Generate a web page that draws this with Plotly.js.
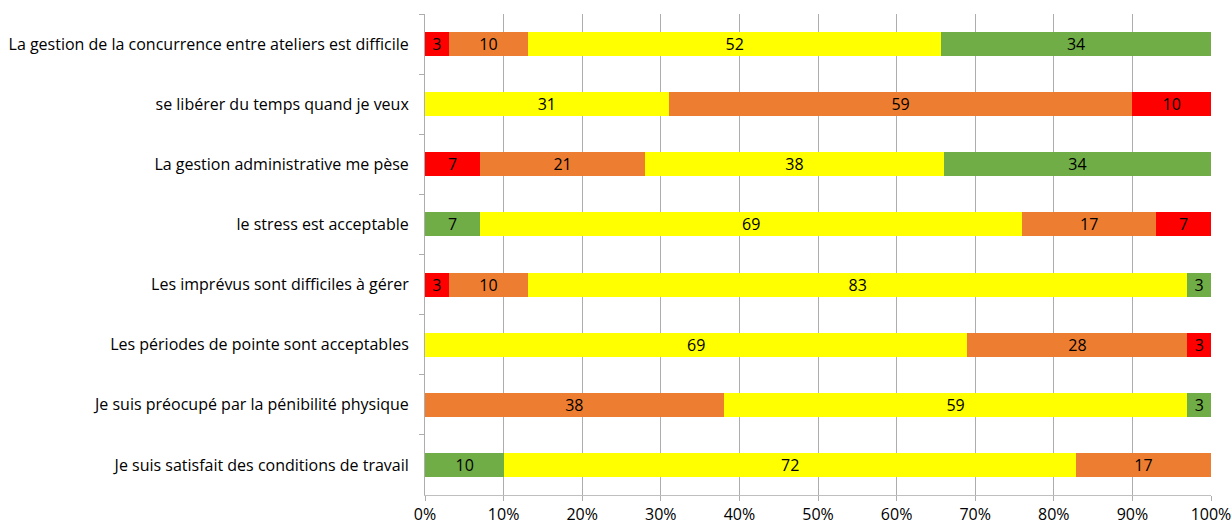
<!DOCTYPE html>
<html>
<head>
<meta charset="utf-8">
<script src="https://cdn.plot.ly/plotly-3.0.1.min.js"></script>
<style>html,body{margin:0;padding:0;background:#fff;}#chart{width:1232px;height:524px;}</style>
</head>
<body>
<div id="chart"></div>
<script>
// Categories, top to bottom
const categories = [
  "La gestion de la concurrence entre ateliers est difficile",
  "se libérer du temps quand je veux",
  "La gestion administrative me pèse",
  "le stress est acceptable",
  "Les imprévus sont difficiles à gérer",
  "Les périodes de pointe sont acceptables",
  "Je suis préocupé par la pénibilité physique",
  "Je suis satisfait des conditions de travail"
];
// Values (%) per colour group, same order as categories (null = absent)
const redValues    = [3, 10, 7, 7, 3, 3, null, null];
const orangeValues = [10, 59, 21, 17, 10, 28, 38, 17];
const yellowValues = [52, 31, 38, 69, 83, 69, 59, 72];
const greenValues  = [34, null, 34, 7, 3, null, 3, 10];
// Order of segments from left to right for each category
const segmentOrder = [
  ["red", "orange", "yellow", "green"],
  ["yellow", "orange", "red"],
  ["red", "orange", "yellow", "green"],
  ["green", "yellow", "orange", "red"],
  ["red", "orange", "yellow", "green"],
  ["yellow", "orange", "red"],
  ["orange", "yellow", "green"],
  ["green", "yellow", "orange"]
];
const xTickValues = [0,10,20,30,40,50,60,70,80,90,100];
const xTickLabels = ["0%","10%","20%","30%","40%","50%","60%","70%","80%","90%","100%"];

const seriesByName = {red: redValues, orange: orangeValues, yellow: yellowValues, green: greenValues};
const palette = {red: "#FF0000", orange: "#ED7D31", yellow: "#FFFF00", green: "#70AD47"};
const FONT = "'Open Sans', Lato, sans-serif";

const traces = [];
for (let slot = 0; slot < 4; slot++) {
  const xs = [], ys = [], cols = [], txt = [];
  categories.forEach((cat, i) => {
    const name = segmentOrder[i][slot];
    if (!name) return;
    const v = seriesByName[name][i];
    xs.push(v); ys.push(cat); cols.push(palette[name]); txt.push(String(v));
  });
  traces.push({
    type: "bar", orientation: "h", x: xs, y: ys,
    marker: {color: cols, line: {width: 0}},
    text: txt, textposition: "inside", insidetextanchor: "middle",
    textangle: 0, textfont: {family: FONT, size: 16, color: "#000"},
    constraintext: "none",
    hoverinfo: "skip", showlegend: false
  });
}

const layout = {
  width: 1232, height: 524,
  margin: {l: 425, r: 21, t: 14, b: 29},
  paper_bgcolor: "#fff", plot_bgcolor: "#fff",
  barmode: "stack", barnorm: "percent", bargap: 0.6,
  font: {family: FONT, size: 16, color: "#000"},
  xaxis: {
    range: [0, 100], tickvals: xTickValues, ticktext: xTickLabels,
    showgrid: true, gridcolor: "#ADADAD", gridwidth: 1,
    showline: true, linecolor: "#BFBFBF", linewidth: 1,
    ticks: "outside", ticklen: 5, tickcolor: "#ADADAD",
    zeroline: false, fixedrange: true,
    tickfont: {family: FONT, size: 16, color: "#000"}
  },
  yaxis: {
    type: "category", categoryorder: "array", categoryarray: categories,
    autorange: "reversed",
    showgrid: false, showline: true, linecolor: "#ADADAD", linewidth: 1,
    ticks: "outside", ticklen: 5, tickcolor: "#ADADAD", tickson: "boundaries",
    ticklabelstandoff: 12,
    tickfont: {family: FONT, size: 16, color: "#000"}, fixedrange: true
  }
};

Plotly.newPlot("chart", traces, layout, {staticPlot: true, displayModeBar: false});
</script>
</body>
</html>
